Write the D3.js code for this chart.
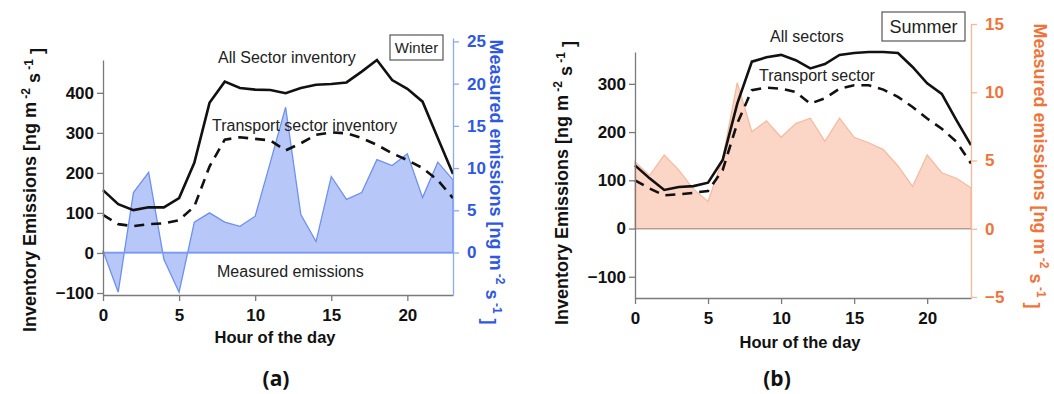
<!DOCTYPE html>
<html>
<head>
<meta charset="utf-8">
<script src="https://cdn.jsdelivr.net/npm/d3@7"></script>
<style>
  body { margin: 0; background: #fff; }
  svg { font-family: "Liberation Sans", Arial, sans-serif; }
  .tick text { font-weight: bold; font-size: 17px; }
</style>
</head>
<body>
<div id="graph"></div>
<script>
// hours of the day
var hours = d3.range(0, 24);

// winter (a): inventories in ng m-2 s-1 (left axis), measured on right axis
var winterAll = [157, 122, 107, 114, 114, 137, 225, 375, 428, 412, 408, 407, 399, 412, 420, 422, 426, 453, 482, 432, 410, 378, 287, 197];
var winterTransport = [95, 72, 67, 72, 74, 82, 116, 216, 283, 289, 285, 281, 256, 274, 295, 301, 299, 287, 270, 249, 232, 212, 182, 137];
var winterMeasured = [0.2, -4.7, 7.1, 9.5, -0.8, -4.7, 3.6, 4.7, 3.6, 3.1, 4.3, 10.7, 17.2, 4.5, 1.3, 9.0, 6.3, 7.1, 11.0, 10.3, 11.7, 6.5, 10.7, 8.6];

// summer (b)
var summerAll = [131, 104, 80, 86, 88, 95, 142, 259, 346, 355, 360, 349, 332, 341, 360, 364, 366, 366, 364, 335, 301, 279, 225, 173];
var summerTransport = [100, 83, 69, 71, 74, 78, 121, 218, 287, 292, 290, 283, 259, 270, 290, 297, 297, 288, 273, 252, 228, 207, 180, 135];
var summerMeasured = [4.9, 3.9, 5.4, 4.3, 2.9, 2.0, 5.1, 10.7, 7.1, 7.9, 6.7, 7.7, 8.1, 6.4, 8.1, 6.7, 6.3, 5.8, 4.6, 3.1, 5.4, 4.1, 3.7, 3.0];

// tick values
var hourTicks = [0, 5, 10, 15, 20];
var winterLeftTicks = [-100, 0, 100, 200, 300, 400];
var winterRightTicks = [0, 5, 10, 15, 20, 25];
var summerLeftTicks = [-100, 0, 100, 200, 300];
var summerRightTicks = [-5, 0, 5, 10, 15];

var svg = d3.select("#graph")
  .append("svg")
    .attr("width", 1054)
    .attr("height", 394);

function drawPanel(p) {
  var g = svg.append("g");

  var x = d3.scaleLinear().domain([0, 23]).range(p.xRange);
  var y = d3.scaleLinear().domain(p.leftDomain).range(p.leftRange);
  var yR = d3.scaleLinear().domain(p.rightDomain).range(p.rightRange);

  // measured emissions, filled against the zero line
  g.append("path")
    .datum(p.measured)
    .attr("fill", p.fill)
    .attr("stroke", p.stroke)
    .attr("stroke-width", 1.3)
    .attr("d", d3.area()
      .x(function(d, i) { return x(hours[i]); })
      .y0(yR(0))
      .y1(function(d) { return yR(d); }));

  // zero line
  g.append("line")
    .attr("x1", x(0)).attr("x2", x(23))
    .attr("y1", y(0)).attr("y2", y(0))
    .attr("stroke", p.zeroColor)
    .attr("stroke-width", 1.2);

  var line = d3.line()
    .x(function(d, i) { return x(hours[i]); })
    .y(function(d) { return y(d); });

  g.append("path")
    .datum(p.transport)
    .attr("fill", "none")
    .attr("stroke", "#111")
    .attr("stroke-width", 2.6)
    .attr("stroke-dasharray", "10,7")
    .attr("d", line);

  g.append("path")
    .datum(p.all)
    .attr("fill", "none")
    .attr("stroke", "#111")
    .attr("stroke-width", 2.6)
    .attr("d", line);

  // axes
  var xAxis = g.append("g")
    .attr("transform", "translate(0," + p.leftRange[0] + ")")
    .call(d3.axisBottom(x).tickValues(hourTicks).tickSize(6).tickSizeOuter(0));
  xAxis.selectAll("text").attr("dy", "1.0em");

  var yAxis = g.append("g")
    .attr("transform", "translate(" + p.xRange[0] + ",0)")
    .call(d3.axisLeft(y).tickValues(p.leftTicks).tickSize(6).tickSizeOuter(0));

  var yAxisR = g.append("g")
    .attr("transform", "translate(" + p.xRange[1] + ",0)")
    .call(d3.axisRight(yR).tickValues(p.rightTicks).tickSize(6).tickSizeOuter(0));
  yAxisR.selectAll("text").attr("fill", p.axisText).attr("x", 14);
  yAxisR.selectAll("line, path").attr("stroke", p.axisLine);

  [xAxis, yAxis].forEach(function(a) {
    a.selectAll("line, path").attr("stroke", "#7a7a7a").attr("stroke-width", 1.3);
    a.selectAll("text").attr("fill", "#111");
  });
  yAxisR.selectAll("line, path").attr("stroke-width", 1.3);

  // axis titles
  g.append("text")
    .attr("x", (p.xRange[0] + p.xRange[1]) / 2 - 3)
    .attr("y", p.xTitleY)
    .attr("text-anchor", "middle")
    .attr("font-weight", "bold")
    .attr("font-size", 16.5)
    .attr("fill", "#111")
    .text("Hour of the day");

  function unitTitle(tx, ty, angle, color, label) {
    var t = g.append("text")
      .attr("transform", "translate(" + tx + "," + ty + ") rotate(" + angle + ")")
      .attr("text-anchor", "middle")
      .attr("dy", "0.35em")
      .attr("font-weight", "bold")
      .attr("font-size", 18)
      .attr("fill", color);
    t.append("tspan").text(label + " [ng m");
    t.append("tspan").attr("dy", "-0.55em").attr("font-size", 12).text(" -2");
    t.append("tspan").attr("dy", "0.55em").text(" s");
    t.append("tspan").attr("dy", "-0.55em").attr("font-size", 12).text(" -1");
    t.append("tspan").attr("dy", "0.55em").text(" ]");
  }
  unitTitle(p.leftTitleX, p.leftTitleY, -90, "#111", "Inventory Emissions");
  unitTitle(p.rightTitleX, p.rightTitleY, 90, p.axisText, "Measured emissions");

  // annotations
  p.notes.forEach(function(n) {
    g.append("text")
      .attr("x", n.x).attr("y", n.y)
      .attr("font-size", 16)
      .attr("fill", "#222")
      .text(n.text);
  });

  // season box
  g.append("rect")
    .attr("x", p.box.x).attr("y", p.box.y)
    .attr("width", p.box.w).attr("height", p.box.h)
    .attr("fill", "#fff")
    .attr("stroke", "#555")
    .attr("stroke-width", 1.2);
  g.append("text")
    .attr("x", p.box.x + p.box.w / 2)
    .attr("y", p.box.y + p.box.h / 2)
    .attr("dy", "0.36em")
    .attr("text-anchor", "middle")
    .attr("font-size", p.box.fs)
    .attr("fill", "#222")
    .text(p.box.text);

  // panel letter
  g.append("text")
    .attr("x", p.letterX).attr("y", 386)
    .attr("text-anchor", "middle")
    .attr("font-family", "'Open Sans', sans-serif")
    .attr("font-weight", "bold")
    .attr("font-size", 21)
    .attr("fill", "#111")
    .text(p.letter);
}

drawPanel({
  xRange: [103, 453],
  leftDomain: [-105, 482], leftRange: [295, 60],
  rightDomain: [-5.03, 25.4], rightRange: [295, 38],
  leftTicks: winterLeftTicks, rightTicks: winterRightTicks,
  all: winterAll, transport: winterTransport, measured: winterMeasured,
  fill: "#b7c8f8", stroke: "#6e90ee", zeroColor: "#7f9cef",
  axisLine: "#8ea8f2", axisText: "#2f58e2",
  xTitleY: 343,
  leftTitleX: 30, leftTitleY: 190,
  rightTitleX: 496, rightTitleY: 182,
  notes: [
    { x: 218, y: 63, text: "All Sector inventory" },
    { x: 212, y: 131, text: "Transport sector inventory" },
    { x: 217, y: 277, text: "Measured emissions" }
  ],
  box: { x: 390, y: 35, w: 53, h: 25, text: "Winter", fs: 15 },
  letter: "(a)", letterX: 276
});

drawPanel({
  xRange: [635, 971],
  leftDomain: [-144, 366], leftRange: [298, 52],
  rightDomain: [-5, 15], rightRange: [297, 24],
  leftTicks: summerLeftTicks, rightTicks: summerRightTicks,
  all: summerAll, transport: summerTransport, measured: summerMeasured,
  fill: "#fbd5c5", stroke: "#f5bba2", zeroColor: "#aaa09a",
  axisLine: "#f7b898", axisText: "#f0743a",
  xTitleY: 348,
  leftTitleX: 562, leftTitleY: 183,
  rightTitleX: 1040, rightTitleY: 166,
  notes: [
    { x: 770, y: 42, text: "All sectors" },
    { x: 759, y: 81, text: "Transport sector" }
  ],
  box: { x: 882, y: 12, w: 83, h: 29, text: "Summer", fs: 18 },
  letter: "(b)", letterX: 777
});
</script>
</body>
</html>
